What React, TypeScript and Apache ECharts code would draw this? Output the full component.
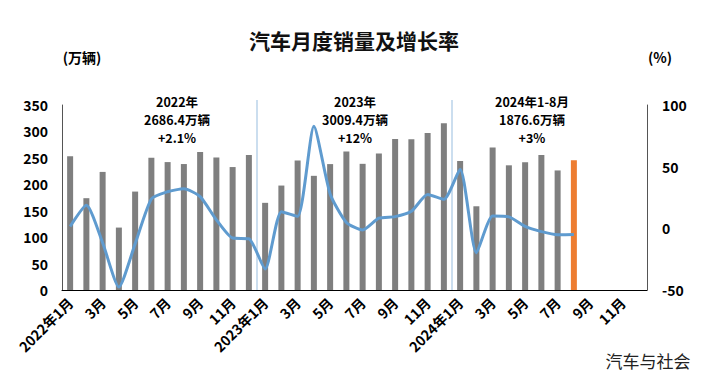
import React, { useEffect, useRef } from "react";
import * as echarts from "echarts";

const months: string[] = [
  "2022年1月", "2月", "3月", "4月", "5月", "6月", "7月", "8月", "9月", "10月", "11月", "12月",
  "2023年1月", "2月", "3月", "4月", "5月", "6月", "7月", "8月", "9月", "10月", "11月", "12月",
  "2024年1月", "2月", "3月", "4月", "5月", "6月", "7月", "8月", "9月", "10月", "11月", "12月",
];

const sales: (number | null)[] = [
  253.1, 173.7, 223.4, 118.1, 186.2, 250.2, 242.0, 238.3, 261.1, 250.6, 232.6, 255.6,
  164.9, 197.6, 245.1, 216.0, 238.2, 262.2, 238.7, 258.2, 285.8, 285.3, 297.0, 315.6,
  243.9, 158.4, 269.4, 235.9, 241.7, 255.2, 226.2, 245.3, null, null, null, null,
];

const growth: (number | null)[] = [
  1.5, 18.7, -11.7, -47.6, -12.6, 23.8, 29.7, 32.1, 25.7, 6.9, -7.9, -8.4,
  -33.0, 13.5, 9.7, 82.7, 27.9, 4.8, -1.4, 8.2, 9.5, 13.8, 27.4, 23.5,
  47.9, -19.9, 9.9, 9.3, 1.5, -2.7, -5.2, -5.0, null, null, null, null,
];

const highlightIndex = 31;
const yearStarts = [12, 24];

const annotations = [
  { x: 177, text: "2022年\n2686.4万辆\n+2.1%" },
  { x: 355, text: "2023年\n3009.4万辆\n+12%" },
  { x: 532, text: "2024年1-8月\n1876.6万辆\n+3%" },
];

const FONT = "'Noto Sans CJK SC', 'Noto Sans', sans-serif";

export default function App() {
  const ref = useRef<HTMLDivElement>(null);
  useEffect(() => {
    if (!ref.current) return;
    const chart = echarts.init(ref.current, null, { renderer: "svg" });
    const textBase = { fontFamily: FONT, fontWeight: "bold", fontSize: 14, color: "#000" };
    const option: any = {
      animation: false,
      backgroundColor: "#fff",
      title: {
        text: "汽车月度销量及增长率",
        left: "center",
        top: 24,
        textStyle: { fontFamily: FONT, fontWeight: "bold", fontSize: 21, color: "#111" },
      },
      grid: { left: 62, right: 61, top: 105, bottom: 88 },
      xAxis: {
        type: "category",
        data: months,
        axisLine: { lineStyle: { color: "#000", width: 1 } },
        axisTick: { show: false },
        axisLabel: {
          interval: 1,
          rotate: 45,
          margin: 10,
          ...textBase,
          fontSize: 14,
        },
      },
      yAxis: [
        {
          type: "value",
          min: 0,
          max: 350,
          interval: 50,
          splitLine: { show: false },
          axisLine: { show: true, lineStyle: { color: "#555" } },
          axisLabel: { ...textBase, margin: 14 },
        },
        {
          type: "value",
          min: -50,
          max: 100,
          interval: 50,
          splitLine: { show: false },
          axisLine: { show: true, lineStyle: { color: "#555" } },
          axisLabel: { ...textBase, margin: 15 },
        },
      ],
      series: [
        {
          type: "bar",
          yAxisIndex: 0,
          barWidth: 6,
          data: sales.map((v, i) =>
            v == null ? null : { value: v, itemStyle: { color: i === highlightIndex ? "#ed7d31" : "#7f7f7f" } }
          ),
        },
        {
          type: "line",
          yAxisIndex: 1,
          data: growth,
          smooth: 0.2,
          showSymbol: false,
          symbol: "none",
          lineStyle: { color: "#5f9bcf", width: 3 },
          z: 3,
        },
      ],
    };
    chart.setOption(option);

    const graphics: any[] = [];
    const top = 100;
    const bottom = chart.convertToPixel({ yAxisIndex: 0 }, 0) as number;
    yearStarts.forEach((idx) => {
      const a = chart.convertToPixel({ xAxisIndex: 0 }, idx - 1) as number;
      const b = chart.convertToPixel({ xAxisIndex: 0 }, idx) as number;
      const x = (a + b) / 2;
      graphics.push({
        type: "line",
        shape: { x1: x, y1: top, x2: x, y2: bottom },
        style: { stroke: "#a8c8e4", lineWidth: 1.2 },
        z: 1,
      });
    });
    annotations.forEach((an) => {
      graphics.push({
        type: "text",
        x: an.x,
        y: 92,
        style: {
          text: an.text,
          fontFamily: FONT,
          fontWeight: "bold",
          fontSize: 12.5,
          lineHeight: 18,
          fill: "#000",
          align: "center",
          verticalAlign: "top",
        },
        z: 10,
      });
    });
    graphics.push(
      {
        type: "text",
        x: 82,
        y: 57,
        style: { text: "(万辆)", fontFamily: FONT, fontWeight: "bold", fontSize: 14, fill: "#000", align: "center", verticalAlign: "middle" },
      },
      {
        type: "text",
        x: 660,
        y: 57,
        style: { text: "(%)", fontFamily: FONT, fontWeight: "bold", fontSize: 14, fill: "#000", align: "center", verticalAlign: "middle" },
      },
      {
        type: "text",
        x: 648,
        y: 360,
        style: { text: "汽车与社会", fontFamily: FONT, fontSize: 17, fill: "#222", align: "center", verticalAlign: "middle" },
      }
    );
    chart.setOption({ graphic: graphics });

    return () => chart.dispose();
  }, []);
  return <div ref={ref} style={{ width: 708, height: 378, position: "absolute", left: 0, top: 0 }} />;
}
